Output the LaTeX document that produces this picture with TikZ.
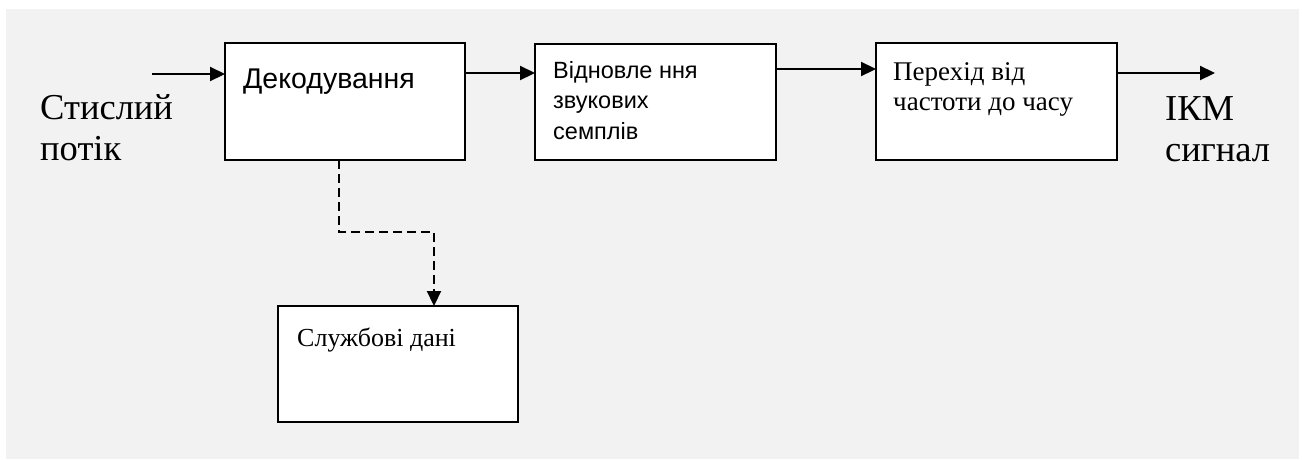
\documentclass[tikz,border=0pt]{standalone}
\usepackage{fontspec}
\setmainfont{Liberation Serif}
\setsansfont{Liberation Sans}
\usetikzlibrary{arrows.meta,calc}
\definecolor{bggray}{HTML}{F2F2F2}
\tikzset{
  blockbox/.style={draw=black, line width=2.8pt, fill=white, anchor=north west, inner sep=0pt, outer sep=0pt},
  arr/.style={line width=2.2pt, -{Triangle[length=15pt,width=14pt]}},
  dashline/.style={dash pattern=on 9pt off 5pt},
  bigserif/.style={inner sep=0pt, anchor=base west, align=left, font=\fontsize{36.5}{40.5}\selectfont},
  boxsans/.style={inner sep=0pt, anchor=base west, align=left},
  boxserif/.style={inner sep=0pt, anchor=base west, align=left}
}
\begin{document}
\begin{tikzpicture}[x=1pt,y=-1pt]
\useasboundingbox (0,0) rectangle (1302,459);
\fill[bggray] (6,9) rectangle (1299,459);

% blocks
\node[blockbox, minimum width=240pt, minimum height=117pt] (dec) at (225,43) {};
\node[blockbox, minimum width=241pt, minimum height=116pt] (rec) at (535,44) {};
\node[blockbox, minimum width=241pt, minimum height=117pt] (trans) at (876,43) {};
\node[blockbox, minimum width=240pt, minimum height=116pt] (serv) at (278,306) {};

% texts inside blocks (base anchor = last line's baseline)
\node[boxsans, font=\sffamily\fontsize{28.5}{32}\selectfont] (tdec) at (243,88) {Декодування};
\node[boxsans, font=\sffamily\fontsize{23.5}{30.5}\selectfont] (trec) at (553,139) {Відновле ння\\звукових\\семплів};
\node[boxserif, font=\fontsize{27}{30}\selectfont] (ttrans) at (893,110) {Перехід від\\частоти до часу};
\node[boxserif, font=\fontsize{26}{30}\selectfont] (tserv) at (297,346) {Службові дані};

% outer labels
\node[bigserif] (lin) at (40,160) {Стислий\\потік};
\node[bigserif] (lout) at (1165,161) {ІКМ\\сигнал};

% connectors
\coordinate (src) at (152,74);
\coordinate (dst) at (1215,73);
\draw[arr] (src) -- (src -| dec.west);
\draw[arr] ($(dec.north east)+(0,30)$) -- ($(rec.north west)+(0,29)$);
\draw[arr] ($(rec.north east)+(0,25)$) -- ($(trans.north west)+(0,26)$);
\draw[arr] ($(trans.north east)+(0,30)$) -- (dst);
\draw[arr, dashline] ($(dec.south west)+(114,0)$) -- ++(0,72) -| ($(serv.north west)+(156,0)$);
\end{tikzpicture}
\end{document}
